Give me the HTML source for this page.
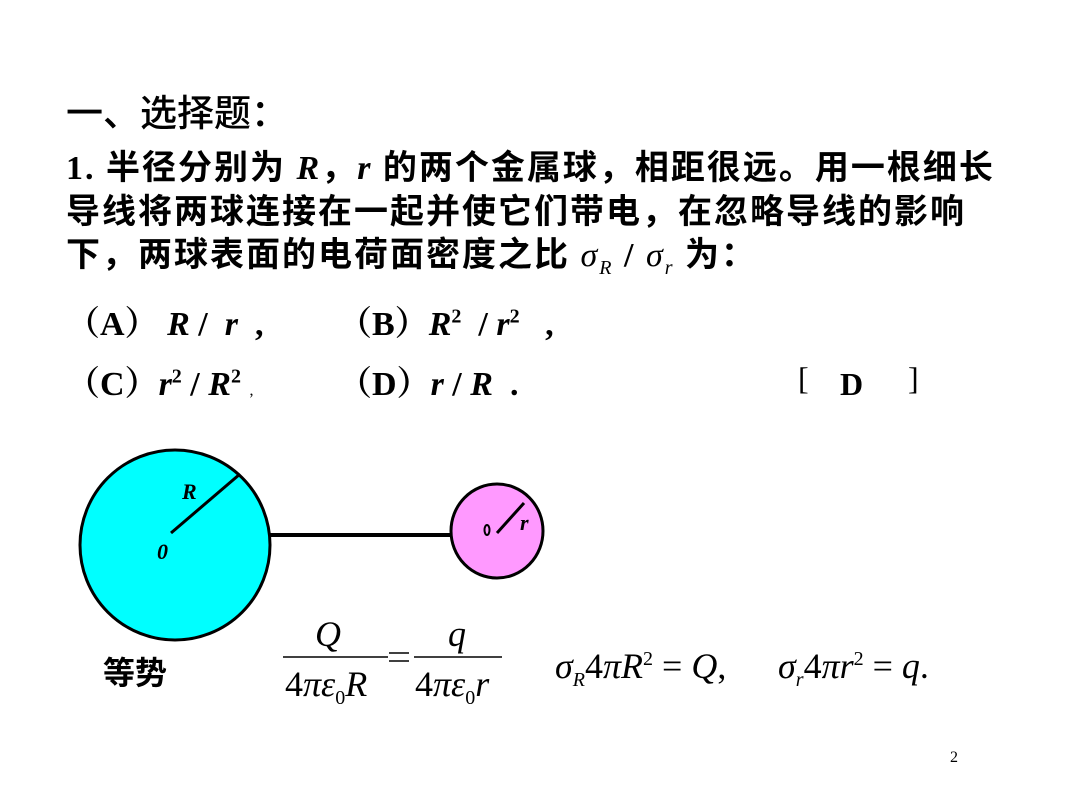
<!DOCTYPE html>
<html><head><meta charset="utf-8"><style>
body{margin:0;width:1080px;height:810px;background:#fff;position:relative;overflow:hidden;font-family:"Liberation Serif","Noto Serif CJK SC",serif;}
.a{position:absolute;white-space:nowrap;line-height:1;}
.cj{font-family:"Liberation Serif","Noto Sans CJK SC",sans-serif;font-weight:bold;font-size:34px;letter-spacing:2px;}
.op{font-family:"Liberation Serif","Noto Serif CJK SC",serif;font-weight:bold;font-size:34px;}
i{font-style:italic}
.m{font-family:"Liberation Serif",serif;font-size:36px;}
sub,sup{line-height:0}
</style></head><body>
<div class="a" style="left:66px;top:92px;font-size:37px;font-family:'Noto Sans CJK SC',sans-serif;font-weight:500">一、选择题：</div>
<div class="a cj" style="left:66px;top:152px">1. 半径分别为 <i style="font-family:'Liberation Serif'">R</i>，<i style="font-family:'Liberation Serif'">r</i> 的两个金属球，相距很远。用一根细长</div>
<div class="a cj" style="left:66px;top:196px">导线将两球连接在一起并使它们带电，在忽略导线的影响</div>
<div class="a cj" style="left:66px;top:239px">下，两球表面的电荷面密度之比 <i style="font-family:'Liberation Serif';font-weight:normal">σ<sub style="font-size:20px">R</sub></i> / <i style="font-family:'Liberation Serif';font-weight:normal">σ<sub style="font-size:20px">r</sub></i> 为：</div>
<div class="a op" style="left:66px;top:308px">（A） <i>R</i> / &nbsp;<i>r</i> &nbsp;,</div>
<div class="a op" style="left:338px;top:308px">（B）<i>R</i><sup style="font-size:20px">2</sup> &nbsp;/ <i>r</i><sup style="font-size:20px">2</sup> &nbsp;&nbsp;,</div>
<div class="a op" style="left:66px;top:368px">（C）<i>r</i><sup style="font-size:20px">2</sup> / <i>R</i><sup style="font-size:20px">2</sup> <span style="font-size:16px;font-weight:normal">,</span></div>
<div class="a op" style="left:338px;top:368px">（D）<i>r</i> / <i>R</i> &nbsp;.</div>
<div class="a" style="left:798px;top:362px;font-size:32px">[</div>
<div class="a" style="left:840px;top:368px;font-size:32px;font-weight:bold">D</div>
<div class="a" style="left:908px;top:362px;font-size:32px">]</div>
<svg class="a" style="left:0;top:0" width="1080" height="810">
<ellipse cx="175" cy="545" rx="95" ry="95" fill="#00FFFF" stroke="#000" stroke-width="3"/>
<line x1="270" y1="535" x2="453" y2="535" stroke="#000" stroke-width="4"/>
<ellipse cx="497" cy="531" rx="46" ry="47" fill="#FF99FF" stroke="#000" stroke-width="3"/>
<line x1="171" y1="533" x2="240" y2="474" stroke="#000" stroke-width="3"/>
<line x1="497" y1="533" x2="524" y2="503" stroke="#000" stroke-width="3"/>
<ellipse cx="487" cy="530" rx="2.5" ry="5" fill="none" stroke="#000" stroke-width="2"/>
<text x="182" y="499" font-family="Liberation Serif" font-style="italic" font-weight="bold" font-size="22">R</text>
<text x="157" y="559" font-family="Liberation Serif" font-style="italic" font-weight="bold" font-size="22">0</text>
<text x="520" y="530" font-family="Liberation Serif" font-style="italic" font-weight="bold" font-size="22">r</text>
<line x1="283" y1="657" x2="388" y2="657" stroke="#000" stroke-width="1.5"/>
<line x1="414" y1="657" x2="502" y2="657" stroke="#000" stroke-width="1.5"/>
<line x1="389" y1="653" x2="409" y2="653" stroke="#000" stroke-width="1.5"/>
<line x1="389" y1="661" x2="409" y2="661" stroke="#000" stroke-width="1.5"/>
</svg>
<div class="a" style="left:103px;top:655px;font-size:32px;font-family:'Noto Sans CJK SC',sans-serif;font-weight:bold">等势</div>
<div class="a m" style="left:315px;top:616px"><i>Q</i></div>
<div class="a m" style="left:285px;top:666px">4<i>πε</i><sub style="font-size:20px">0</sub><i>R</i></div>
<div class="a m" style="left:448px;top:616px"><i>q</i></div>
<div class="a m" style="left:415px;top:666px">4<i>πε</i><sub style="font-size:20px">0</sub><i>r</i></div>
<div class="a m" style="left:555px;top:648px"><i>σ</i><sub style="font-size:20px"><i>R</i></sub>4<i>πR</i><sup style="font-size:20px">2</sup> = <i>Q</i>,</div>
<div class="a m" style="left:778px;top:648px"><i>σ</i><sub style="font-size:20px"><i>r</i></sub>4<i>πr</i><sup style="font-size:20px">2</sup> = <i>q</i>.</div>
<div class="a" style="left:950px;top:750px;font-size:16px">2</div>
</body></html>
